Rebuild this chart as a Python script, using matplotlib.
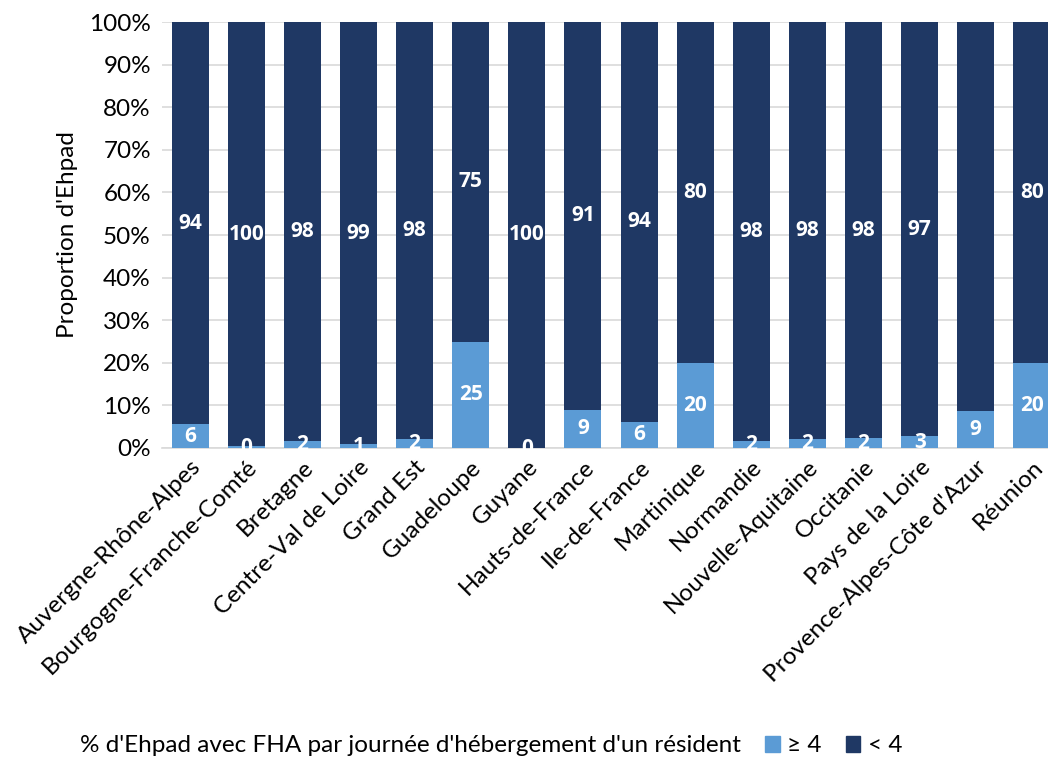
import matplotlib.pyplot as plt
from matplotlib.patches import Patch
from matplotlib.ticker import PercentFormatter

plt.rcParams['font.family'] = ['Lato', 'DejaVu Sans']

regions = ['Auvergne-Rhône-Alpes', 'Bourgogne-Franche-Comté', 'Bretagne',
           'Centre-Val de Loire', 'Grand Est', 'Guadeloupe', 'Guyane',
           'Hauts-de-France', 'Ile-de-France', 'Martinique', 'Normandie',
           'Nouvelle-Aquitaine', 'Occitanie', 'Pays de la Loire',
           "Provence-Alpes-Côte d'Azur", 'Réunion']
# share of Ehpad with >= 4 FHA (percent)
high = [5.6, 0.4, 1.6, 0.9, 2.2, 25.0, 0.0, 9.0, 6.2, 20.0, 1.6, 2.0, 2.3, 2.7, 8.7, 20.0]
low = [100 - v for v in high]
high_labels = ['6', '0', '2', '1', '2', '25', '0', '9', '6', '20', '2', '2', '2', '3', '9', '20']
low_labels = ['94', '100', '98', '99', '98', '75', '100', '91', '94', '80', '98', '98', '98', '97', '', '80']

c_high = '#5b9bd5'
c_low = '#1f3864'
fs = 17.5

fig = plt.figure(figsize=(10.48, 7.63), dpi=100)
ax = fig.add_axes([162 / 1048, 1 - 448 / 763, 898 / 1048, 426 / 763])

x = range(len(regions))
ax.bar(x, high, width=0.66, color=c_high, zorder=3)
ax.bar(x, low, bottom=high, width=0.66, color=c_low, zorder=3)

lab = dict(ha='center', va='center', color='white', fontsize=15, fontweight='bold',
           family=['Open Sans', 'DejaVu Sans'], zorder=4)
for i in x:
    ax.text(i, high[i] / 2, high_labels[i], clip_on=False, **lab)
    if low_labels[i]:
        ax.text(i, high[i] + low[i] / 2, low_labels[i], **lab)

ax.set_xlim(-0.5, len(regions) - 0.5)
ax.set_ylim(0, 100)
ax.set_yticks(range(0, 101, 10))
ax.yaxis.set_major_formatter(PercentFormatter(decimals=0))
ax.grid(axis='y', color='#d9d9d9', linewidth=1.2, zorder=0)
ax.set_xticks(list(x))
ax.set_xticklabels(regions, rotation=45, ha='right', rotation_mode='anchor', fontsize=fs)
ax.tick_params(axis='y', labelsize=fs, length=0, pad=8)
ax.tick_params(axis='x', length=0, pad=6)
for s in ['top', 'right', 'left']:
    ax.spines[s].set_visible(False)
ax.spines['bottom'].set_color('#d9d9d9')
ax.spines['bottom'].set_linewidth(1.2)
ax.set_ylabel("Proportion d'Ehpad", fontsize=fs, labelpad=8)

fig.text(80 / 1048, 1 - 746 / 763, "% d'Ehpad avec FHA par journée d'hébergement d'un résident",
         fontsize=fs, va='center', ha='left')
handles = [Patch(color=c_high, label='≥ 4'), Patch(color=c_low, label='< 4')]
fig.legend(handles=handles, loc='center left', bbox_to_anchor=(765 / 1048, 1 - 746 / 763),
           ncol=2, frameon=False, fontsize=fs, handlelength=0.6, handleheight=0.6,
           handletextpad=0.3, columnspacing=1.0, borderpad=0, borderaxespad=0)

fig.savefig('out.png', dpi=100)
